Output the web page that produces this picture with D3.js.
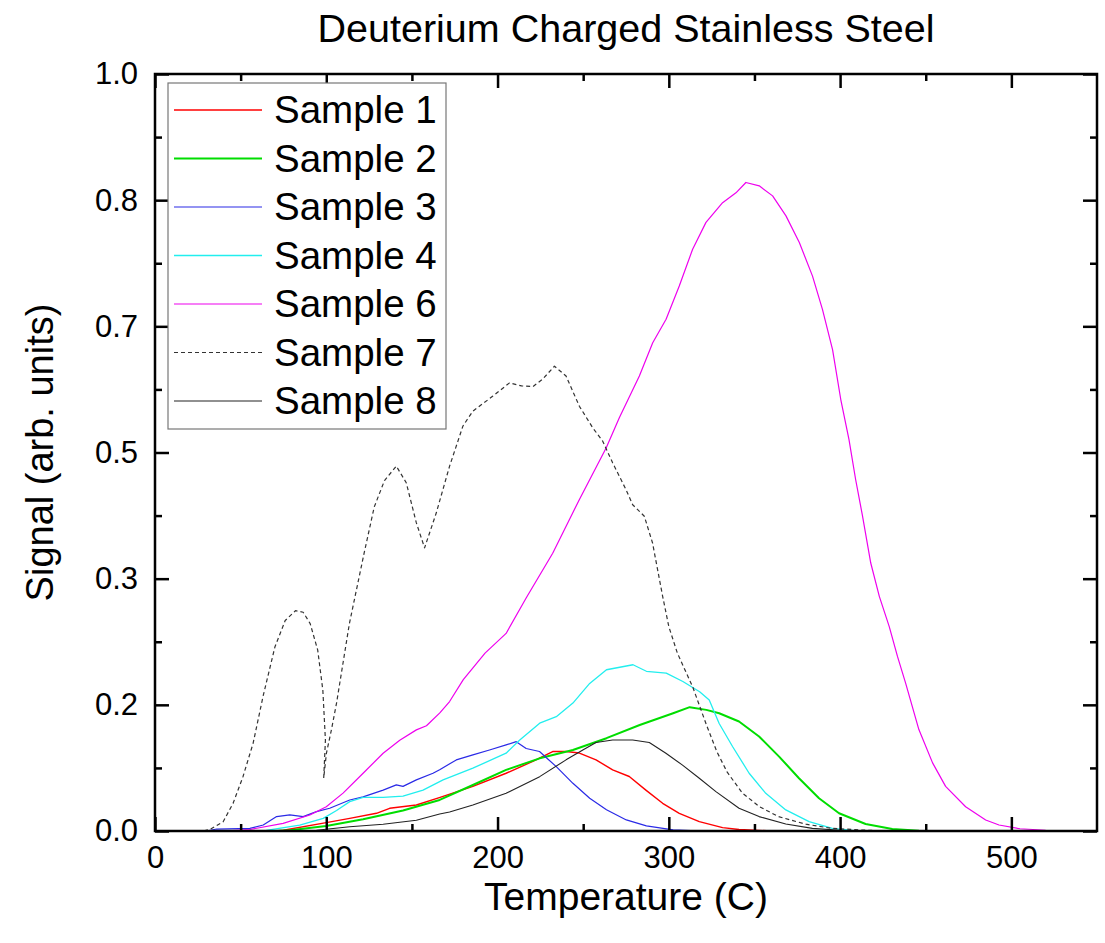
<!DOCTYPE html>
<html lang="en">
<head>
    <meta charset="UTF-8">
    <title>Deuterium Charged Stainless Steel</title>
    <script src="https://d3js.org/d3.v7.min.js"></script>
    <style>
        body { margin: 0; background: white; }
        svg { display: block; font-family: "Liberation Sans", Arial, sans-serif; }
    </style>
</head>
<body>
    <svg id="chart" width="1105" height="943"></svg>
    <script>
        // [temperature (C), signal] pairs
        const sample1 = [[0,0],[70,0],[75,0.001],[100,0.011],[113.7,0.0167],[129.3,0.0234],[137,0.03],[152.6,0.0344],
            [166,0.044],[185.6,0.059],[205,0.0763],[220.6,0.092],[232.2,0.105],[240,0.105],[247.8,0.103],[257.5,0.094],
            [267.2,0.0807],[276.9,0.072],[286.6,0.054],[296.4,0.0366],[306.1,0.0234],[317.8,0.0124],[331.4,0.0044],
            [341,0.002],[360,0],[550,0]];
        const sample2 = [[0,0],[70,0],[78.7,0.001],[100,0.0066],[121.5,0.0154],[144.8,0.027],[166.2,0.041],[185.6,0.0608],
            [205,0.0807],[224.6,0.096],[244,0.107],[263.6,0.1226],[283,0.14],[302.5,0.1556],[312.2,0.1636],[321.9,0.16],
            [329.4,0.1556],[341,0.1446],[352.7,0.1248],[364.4,0.0983],[376,0.0697],[387.7,0.0432],[399.4,0.0234],
            [414.9,0.0093],[430.5,0.0026],[446,0.0004],[460,0],[550,0]];
        const sample3 = [[0,0],[30,0],[36,0.0026],[55.4,0.0035],[63.2,0.0079],[71,0.019],[78.7,0.0212],[86.5,0.019],
            [94.3,0.0256],[102,0.03],[113.7,0.041],[121.5,0.045],[133.2,0.054],[140.9,0.061],[144.8,0.059],[152.6,0.0675],
            [162.3,0.0763],[166.2,0.081],[175.9,0.0939],[185.6,0.1006],[195.3,0.107],[205,0.1137],[210.9,0.118],
            [216.7,0.109],[224.5,0.105],[234.3,0.085],[244,0.063],[253.8,0.0432],[263.6,0.028],[275.2,0.0146],
            [286.9,0.0067],[302.5,0.0015],[320,0],[550,0]];
        const sample4 = [[0,0],[60,0],[65,0.0009],[84.5,0.0079],[98.2,0.0167],[106,0.027],[113.7,0.0388],[121.5,0.0444],
            [133.2,0.0444],[144.8,0.046],[156.5,0.054],[168.2,0.0675],[185.6,0.083],[205,0.1028],[212.8,0.12],
            [224.6,0.1424],[234.3,0.151],[244,0.169],[253.8,0.195],[263.6,0.213],[279.1,0.2196],[286.9,0.211],
            [298.5,0.2085],[308.2,0.1975],[318,0.184],[323.6,0.173],[329.4,0.142],[337.2,0.1116],[346.9,0.0763],
            [356.6,0.0498],[368.3,0.0278],[381.9,0.0123],[395.5,0.0035],[410,0],[550,0]];
        const sample6 = [[0,0],[40,0],[55.4,0.002],[74.8,0.01],[90.4,0.0212],[100,0.032],[109.8,0.05],[121.5,0.0763],
            [133.2,0.1027],[142.9,0.12],[152.6,0.1336],[158.5,0.139],[166.3,0.156],[172,0.171],[180,0.2],[192.7,0.235],
            [205,0.261],[216.7,0.3078],[232.2,0.367],[247.8,0.438],[263.4,0.506],[271.1,0.546],[282.8,0.601],
            [290.6,0.645],[298.4,0.676],[306.1,0.72],[313.9,0.7685],[321.7,0.804],[331.4,0.83],[339.2,0.843],
            [345,0.8567],[352.8,0.8523],[360.6,0.839],[368.4,0.8126],[376.2,0.7774],[383.9,0.733],[389.7,0.689],
            [395.6,0.636],[400.4,0.57],[405.2,0.517],[409.1,0.464],[413,0.4173],[417.9,0.354],[422.9,0.31],
            [428.7,0.27],[433.5,0.2306],[438.3,0.195],[446,0.134],[454,0.09],[461.6,0.059],[473.3,0.032],
            [485,0.0145],[492.8,0.0079],[505,0.003],[520,0.001],[550,0]];
        const sample7 = [[0,0],[28,0],[32,0.002],[39.8,0.0123],[45.6,0.0366],[51.4,0.072],[57.3,0.116],[63.1,0.178],
            [70,0.243],[76,0.278],[82,0.291],[86.5,0.289],[90.6,0.274],[95,0.239],[98,0.186],[99.5,0.12],[98.5,0.07],
            [100.1,0.103],[103,0.1336],[106,0.169],[113.5,0.274],[122,0.366],[128,0.428],[134,0.463],[140.9,0.482],
            [146.7,0.46],[152.6,0.407],[157.4,0.374],[164.2,0.42],[172,0.482],[179.8,0.535],[185.6,0.5547],
            [197.3,0.5745],[207,0.592],[214,0.588],[220.6,0.587],[226.4,0.597],[233.2,0.614],[240,0.601],
            [247.8,0.561],[255.6,0.5326],[261.4,0.515],[267.2,0.4864],[275,0.451],[278.9,0.431],[285.7,0.4158],
            [290.5,0.3805],[296.4,0.31],[300,0.27],[305,0.235],[314,0.19],[322,0.14],[328,0.105],[334,0.078],
            [343,0.05],[353,0.032],[364,0.019],[380,0.009],[395,0.0035],[415,0.001],[430,0],[550,0]];
        const sample8 = [[0,0],[85,0],[94.3,0.001],[113.7,0.0057],[133.2,0.009],[152.6,0.0141],[166.2,0.0225],
            [172,0.025],[185.6,0.0344],[205,0.0498],[224.6,0.0718],[240,0.094],[249.8,0.107],[257.5,0.117],
            [267.2,0.1203],[278.9,0.1203],[288.6,0.117],[298.3,0.1027],[308,0.087],[317.8,0.0697],[327.5,0.052],
            [341,0.03],[352.7,0.019],[368.3,0.0093],[383.8,0.0035],[400,0.001],[420,0],[550,0]];

        const seriesNames = ["Sample 1", "Sample 2", "Sample 3", "Sample 4", "Sample 6", "Sample 7", "Sample 8"];
        const seriesData = [sample1, sample2, sample3, sample4, sample6, sample7, sample8];
        const seriesColors = ["#ff0000", "#00dd00", "#2a2ae6", "#22eeee", "#ee00ee", "#333333", "#222222"];
        const seriesDash = [null, null, null, null, null, "4,3", null];
        const seriesWidth = [1.4, 2, 1.2, 1.3, 1.2, 1.2, 1.1];

        const xTicks = [0, 100, 200, 300, 400, 500];
        const xMinor = [50, 150, 250, 350, 450];
        const yTicks = [0, 1/6, 2/6, 3/6, 4/6, 5/6, 1];
        const yMinor = [1/12, 3/12, 5/12, 7/12, 9/12, 11/12];

        const svg = d3.select("#chart");
        const plotLeft = 155, plotRight = 1097, plotTop = 74, plotBottom = 831;

        const x = d3.scaleLinear().domain([0, 550]).range([plotLeft, plotRight]);
        const y = d3.scaleLinear().domain([0, 1]).range([plotBottom, plotTop]);

        svg.append("clipPath").attr("id", "plotClip")
            .append("rect").attr("x", plotLeft).attr("y", plotTop)
            .attr("width", plotRight - plotLeft).attr("height", plotBottom - plotTop);

        const line = d3.line().x(d => x(d[0])).y(d => y(d[1]));

        const plot = svg.append("g").attr("clip-path", "url(#plotClip)");
        seriesData.forEach((s, i) => {
            plot.append("path")
                .datum(s)
                .attr("fill", "none")
                .attr("stroke", seriesColors[i])
                .attr("stroke-width", seriesWidth[i])
                .attr("stroke-dasharray", seriesDash[i])
                .attr("stroke-linejoin", "round")
                .attr("d", line);
        });

        // axes, ticks pointing inward on all four sides
        function styleAxis(g) {
            g.select(".domain").remove();
            g.selectAll(".tick line").attr("stroke", "black").attr("stroke-width", 2.5);
            g.selectAll(".tick text").attr("fill", "black").style("font-size", "31px");
        }
        const fmt = d3.format(".1f");

        svg.append("g").attr("transform", `translate(0,${plotBottom})`)
            .call(d3.axisBottom(x).tickValues(xTicks).tickSize(-14).tickPadding(15).tickFormat(d3.format("d")))
            .call(styleAxis);
        svg.append("g").attr("transform", `translate(0,${plotBottom})`)
            .call(d3.axisBottom(x).tickValues(xMinor).tickSize(-7).tickFormat(""))
            .call(styleAxis);
        svg.append("g").attr("transform", `translate(0,${plotTop})`)
            .call(d3.axisTop(x).tickValues(xTicks).tickSize(-14).tickFormat(""))
            .call(styleAxis);
        svg.append("g").attr("transform", `translate(0,${plotTop})`)
            .call(d3.axisTop(x).tickValues(xMinor).tickSize(-7).tickFormat(""))
            .call(styleAxis);

        svg.append("g").attr("transform", `translate(${plotLeft},0)`)
            .call(d3.axisLeft(y).tickValues(yTicks).tickSize(-14).tickPadding(17).tickFormat(fmt))
            .call(styleAxis);
        svg.append("g").attr("transform", `translate(${plotLeft},0)`)
            .call(d3.axisLeft(y).tickValues(yMinor).tickSize(-7).tickFormat(""))
            .call(styleAxis);
        svg.append("g").attr("transform", `translate(${plotRight},0)`)
            .call(d3.axisRight(y).tickValues(yTicks).tickSize(-14).tickFormat(""))
            .call(styleAxis);
        svg.append("g").attr("transform", `translate(${plotRight},0)`)
            .call(d3.axisRight(y).tickValues(yMinor).tickSize(-7).tickFormat(""))
            .call(styleAxis);

        svg.append("rect")
            .attr("x", plotLeft).attr("y", plotTop)
            .attr("width", plotRight - plotLeft).attr("height", plotBottom - plotTop)
            .attr("fill", "none").attr("stroke", "black").attr("stroke-width", 2.5);

        // title and axis titles
        svg.append("text")
            .attr("x", (plotLeft + plotRight) / 2).attr("y", 42)
            .attr("text-anchor", "middle")
            .style("font-size", "39.5px")
            .text("Deuterium Charged Stainless Steel");

        svg.append("text")
            .attr("x", (plotLeft + plotRight) / 2).attr("y", 910)
            .attr("text-anchor", "middle")
            .style("font-size", "39px")
            .text("Temperature (C)");

        svg.append("text")
            .attr("transform", `translate(53,${(plotTop + plotBottom) / 2}) rotate(-90)`)
            .attr("text-anchor", "middle")
            .style("font-size", "38px")
            .text("Signal (arb. units)");

        // legend
        const legend = svg.append("g");
        legend.append("rect")
            .attr("x", 168).attr("y", 83).attr("width", 278).attr("height", 346)
            .attr("fill", "white").attr("stroke", "#777").attr("stroke-width", 1.2);

        seriesNames.forEach((name, i) => {
            const ly = 110 + i * 48.5;
            legend.append("line")
                .attr("x1", 174).attr("x2", 262).attr("y1", ly).attr("y2", ly)
                .attr("stroke", seriesColors[i])
                .attr("stroke-width", seriesWidth[i])
                .attr("stroke-dasharray", seriesDash[i]);
            legend.append("text")
                .attr("x", 274).attr("y", ly)
                .attr("dy", "0.35em")
                .style("font-size", "38.5px")
                .text(name);
        });
    </script>
</body>
</html>
